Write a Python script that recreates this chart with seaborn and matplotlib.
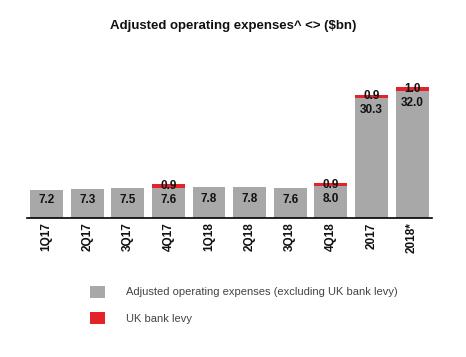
import matplotlib
matplotlib.use("Agg")
import matplotlib.pyplot as plt
import seaborn as sns
import pandas as pd
import numpy as np
from matplotlib.patches import Patch

categories = ["1Q17", "2Q17", "3Q17", "4Q17", "1Q18", "2Q18", "3Q18", "4Q18", "2017", "2018*"]
base_values = [7.2, 7.3, 7.5, 7.6, 7.8, 7.8, 7.6, 8.0, 30.3, 32.0]
levy_values = [0.0, 0.0, 0.0, 0.9, 0.0, 0.0, 0.0, 0.9, 0.9, 1.0]

GRAY = "#a8a8a8"
RED = "#e3232a"

sns.set_theme(style="white")
plt.rcParams["font.family"] = ["Liberation Sans", "DejaVu Sans"]

df = pd.DataFrame({"cat": categories, "base": base_values, "levy": levy_values})
df["total"] = df["base"] + df["levy"]

fig = plt.figure(figsize=(4.66, 3.57), dpi=100)
ax = fig.add_axes([0.058, 0.389, 0.869, 0.366])

sns.barplot(data=df, x="cat", y="total", color=RED, saturation=1, width=0.81,
            linewidth=0, ax=ax)
sns.barplot(data=df, x="cat", y="base", color=GRAY, saturation=1, width=0.81,
            linewidth=0, ax=ax)

ax.set_ylim(0, 33.0)
ax.set_xlim(-0.48, 9.49)
ax.set_xlabel("")
ax.set_ylabel("")
ax.set_yticks([])
for s in ["top", "right", "left"]:
    ax.spines[s].set_visible(False)
ax.spines["bottom"].set_color("black")
ax.spines["bottom"].set_linewidth(1.2)
ax.tick_params(axis="x", length=0, pad=3)
ax.set_xticks(range(len(categories)))
ax.set_xticklabels(categories, rotation=90, fontsize=8.5, fontweight="bold", color="#111111")

for i, (b, l) in enumerate(zip(base_values, levy_values)):
    if i >= 8:
        ax.text(i, b - 3.0, f"{b:.1f}", ha="center", va="center", fontsize=8.5, fontweight="bold", color="#111111")
    else:
        ax.text(i, b / 2 + 0.9, f"{b:.1f}", ha="center", va="center", fontsize=8.5, fontweight="bold", color="#111111")
    if l > 0:
        ax.text(i, b + l / 2, f"{l:.1f}", ha="center", va="center", fontsize=8.5, fontweight="bold", color="#111111")

fig.text(0.5, 0.928, "Adjusted operating expenses^ <> ($bn)", ha="center", va="center",
         fontsize=9.5, fontweight="bold", color="#111111")

handles = [Patch(facecolor=GRAY, edgecolor="none"), Patch(facecolor=RED, edgecolor="none")]
labels = ["Adjusted operating expenses (excluding UK bank levy)", "UK bank levy"]
fig.legend(handles, labels, loc="upper left", bbox_to_anchor=(0.172, 0.228), frameon=False,
           fontsize=8, handlelength=1.3, handleheight=1.3, handletextpad=1.9,
           labelspacing=1.3, labelcolor="#444444")

fig.savefig("out.png", dpi=100, facecolor="white")
